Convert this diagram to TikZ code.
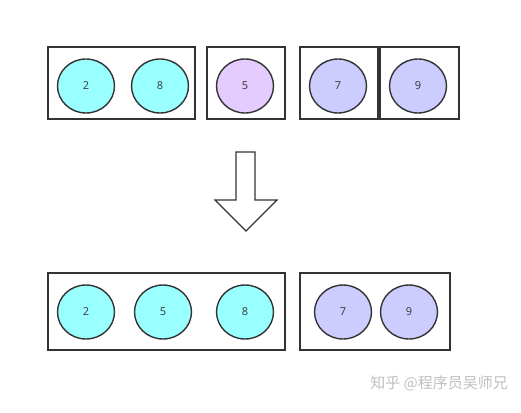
\documentclass[tikz,border=0pt]{standalone}
\usepackage{fontspec}
\setmainfont{Noto Sans}
\newfontfamily\cjk{Noto Sans CJK SC}
\begin{document}
\begin{tikzpicture}[x=1pt,y=-1pt,
  box/.style={draw=black!80, line width=1.4pt},
  ball/.style={ellipse, draw=black!80, line width=1.4pt, minimum width=57pt, minimum height=54pt, inner sep=0pt, font=\fontsize{11}{12}\selectfont, text=black!75},
  cyanball/.style={ball, fill={rgb,255:red,153;green,255;blue,255}},
  pinkball/.style={ball, fill={rgb,255:red,229;green,204;blue,255}},
  lavball/.style={ball, fill={rgb,255:red,204;green,204;blue,255}}]
\usetikzlibrary{shapes.geometric}
\useasboundingbox (0,0) rectangle (521,412);
% top row
\draw[box] (48,47) rectangle (195,119);
\draw[box] (207,47) rectangle (285,119);
\draw[box] (300,47) rectangle (378,119);
\draw[box] (380,47) rectangle (459,119);
\node[cyanball] (t2) at (86,86) {2};
\node[cyanball] (t8) at (160,86) {8};
\node[pinkball] (t5) at (245,86) {5};
\node[lavball] (t7) at (338,86) {7};
\node[lavball] (t9) at (418,86) {9};
% arrow
\draw[draw=black!80, line width=1.2pt, fill=white, line join=miter]
  (236,152) -- (255,152) -- (255,200) -- (277,200) -- (246,231) -- (215,200) -- (236,200) -- cycle;
% bottom row
\draw[box] (48,273) rectangle (285,350);
\draw[box] (300,273) rectangle (450,350);
\node[cyanball] (b2) at (86,312) {2};
\node[cyanball] (b5) at (163,312) {5};
\node[cyanball] (b8) at (245,312) {8};
\node[lavball] (b7) at (343,312) {7};
\node[lavball] (b9) at (409,312) {9};
% watermark
\node[anchor=east, text=black!25, font=\cjk\fontsize{15}{17}\selectfont, inner sep=0pt] (wm) at (508,383) {知乎 @程序员吴师兄};
\end{tikzpicture}
\end{document}
